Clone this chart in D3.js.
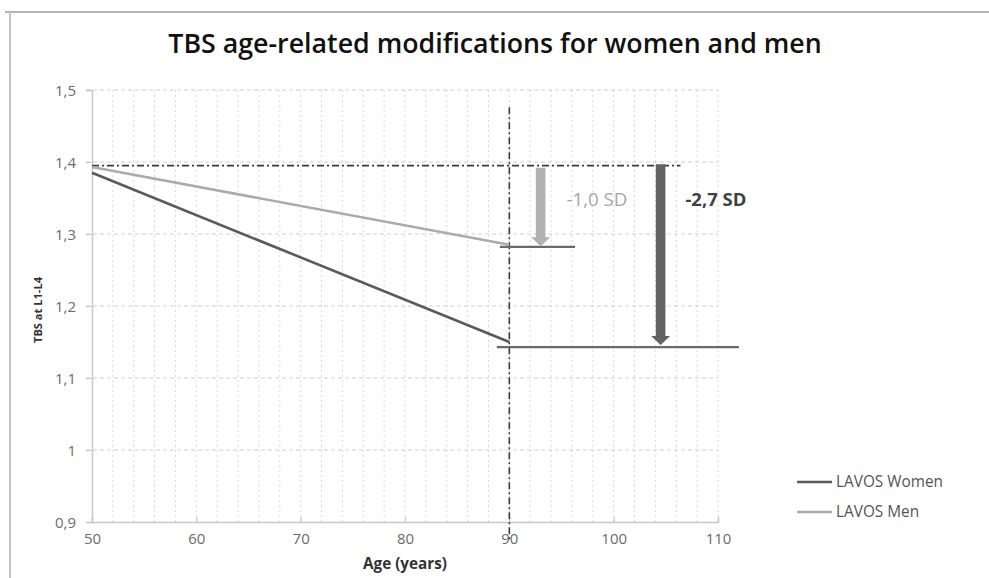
<!DOCTYPE html>
<html>
<head>
<meta charset="utf-8">
<script src="https://cdn.jsdelivr.net/npm/d3@7"></script>
<style>
  html, body { margin: 0; padding: 0; background: #fff; }
  svg { display: block; }
  text { font-family: "Open Sans", "DejaVu Sans", sans-serif; }
</style>
</head>
<body>
<svg id="chart" width="989" height="578"></svg>
<script>
// ---------- data ----------
const title = "TBS age-related modifications for women and men";
const xTitle = "Age (years)";
const yTitle = "TBS at L1-L4";
const ages = [50, 90];
const womenTBS = [1.385, 1.15];
const menTBS = [1.393, 1.285];
const seriesNames = ["LAVOS Women", "LAVOS Men"];
const xTicks = [50, 60, 70, 80, 90, 100, 110];
const yTicks = [0.9, 1.0, 1.1, 1.2, 1.3, 1.4, 1.5];
const yTickLabels = ["0,9", "1", "1,1", "1,2", "1,3", "1,4", "1,5"];
const refLevel = 1.395;          // horizontal dash-dot reference
const refAge = 90;               // vertical dash-dot reference
const refLineEndAge = 106.4;
const refVLineRange = [1.476, 0.875];
const levelSegments = [
  { name: "men", from: 89.1, to: 96.3, value: 1.282 },
  { name: "women", from: 88.8, to: 112.0, value: 1.143 }
];
const arrows = [
  { name: "men", age: 93.0, from: 1.392, to: 1.283, label: "-1,0 SD", labelAge: 98.4, labelValue: 1.348 },
  { name: "women", age: 104.5, from: 1.397, to: 1.146, label: "-2,7 SD", labelAge: 109.8, labelValue: 1.348 }
];

// ---------- layout ----------
const svg = d3.select("#chart");
const plot = { left: 92, right: 718, top: 90, bottom: 522 };
const x = d3.scaleLinear().domain([50, 110]).range([plot.left, plot.right]);
const y = d3.scaleLinear().domain([0.9, 1.5]).range([plot.bottom, plot.top]);

const colWomen = "#5a5a5a", colMen = "#ababab";
const colText = "#6b6b6b";

function fit(sel, base, width) {
  sel.attr("font-size", base);
  const w = sel.node().getComputedTextLength();
  sel.attr("font-size", base * width / w);
  return sel;
}

// frame
svg.append("line").attr("x1", 5).attr("x2", 989).attr("y1", 12).attr("y2", 12)
  .attr("stroke", "#b4b4b4").attr("stroke-width", 2);
svg.append("line").attr("x1", 10).attr("x2", 10).attr("y1", 12).attr("y2", 578)
  .attr("stroke", "#c4c4c4").attr("stroke-width", 2);

// title
const t = svg.append("text").attr("x", 495).attr("y", 53).attr("text-anchor", "middle")
  .attr("font-weight", 600).attr("fill", "#111").text(title);
fit(t, 22, 654);

// minor vertical gridlines every 2 years
const vGrid = d3.range(52, 110.1, 2);
svg.append("g").selectAll("line").data(vGrid).join("line")
  .attr("x1", d => x(d)).attr("x2", d => x(d))
  .attr("y1", plot.top).attr("y2", plot.bottom)
  .attr("stroke", "#d9d9d9").attr("stroke-width", 1).attr("stroke-dasharray", "2,3");

// horizontal gridlines
svg.append("g").selectAll("line").data(yTicks.slice(1)).join("line")
  .attr("x1", plot.left - 6).attr("x2", plot.right)
  .attr("y1", d => y(d)).attr("y2", d => y(d))
  .attr("stroke", "#cfcfcf").attr("stroke-width", 1).attr("stroke-dasharray", "4,3");

// axes
const yAxis = d3.axisLeft(y).tickValues(yTicks).tickFormat((d, i) => yTickLabels[i]).tickSize(6).tickPadding(10);
const gy = svg.append("g").attr("transform", `translate(${plot.left},0)`).call(yAxis);
const xAxis = d3.axisBottom(x).tickValues(xTicks).tickFormat(d3.format("d")).tickSize(-5).tickPadding(11);
const gx = svg.append("g").attr("transform", `translate(0,${plot.bottom})`).call(xAxis);
[gx, gy].forEach(g => {
  g.select(".domain").attr("stroke", "#c8c8c8").attr("stroke-width", 1.5);
  g.selectAll(".tick line").attr("stroke", "#c8c8c8").attr("stroke-width", 1.2);
  g.selectAll(".tick text").attr("fill", colText).attr("font-size", 15)
    .attr("font-family", "'Open Sans', sans-serif");
});
gy.selectAll(".tick text").attr("dy", "0.35em");
gx.selectAll(".tick text").attr("dy", "0.71em");

// axis titles
fit(svg.append("text").attr("x", x(80)).attr("y", 569).attr("text-anchor", "middle")
  .attr("font-weight", "bold").attr("fill", "#333").text(xTitle), 12, 84);
fit(svg.append("text").attr("transform", `translate(42,310) rotate(-90)`).attr("text-anchor", "middle")
  .attr("font-weight", "bold").attr("fill", "#333").text(yTitle), 11, 66);

// reference dash-dot lines
svg.append("line").attr("x1", x(50)).attr("x2", x(refLineEndAge))
  .attr("y1", y(refLevel)).attr("y2", y(refLevel))
  .attr("stroke", "#3a3a3a").attr("stroke-width", 1.6).attr("stroke-dasharray", "7,3,2,3");
svg.append("line").attr("x1", x(refAge)).attr("x2", x(refAge))
  .attr("y1", y(refVLineRange[0])).attr("y2", y(refVLineRange[1]))
  .attr("stroke", "#3a3a3a").attr("stroke-width", 1.6).attr("stroke-dasharray", "7,3,2,3");

// series lines
const line = d3.line().x(d => x(d[0])).y(d => y(d[1]));
svg.append("path").datum(ages.map((a, i) => [a, menTBS[i]])).attr("d", line)
  .attr("fill", "none").attr("stroke", colMen).attr("stroke-width", 2.6);
svg.append("path").datum(ages.map((a, i) => [a, womenTBS[i]])).attr("d", line)
  .attr("fill", "none").attr("stroke", colWomen).attr("stroke-width", 2.6);

// level segments
svg.append("g").selectAll("line").data(levelSegments).join("line")
  .attr("x1", d => x(d.from)).attr("x2", d => x(d.to))
  .attr("y1", d => y(d.value)).attr("y2", d => y(d.value))
  .attr("stroke", "#6a6a6a").attr("stroke-width", 2.2);

// arrows
const arrowColor = { men: "#b0b0b0", women: "#636363" };
const labelColor = { men: "#a6a6a6", women: "#404040" };
arrows.forEach(a => {
  const cx = x(a.age), y0 = y(a.from), y1 = y(a.to);
  const shaft = 4.8, head = 9.5, headLen = 9;
  const pts = [
    [cx - shaft, y0], [cx + shaft, y0], [cx + shaft, y1 - headLen],
    [cx + head, y1 - headLen], [cx, y1], [cx - head, y1 - headLen], [cx - shaft, y1 - headLen]
  ];
  svg.append("polygon").attr("points", pts.map(p => p.join(",")).join(" "))
    .attr("fill", arrowColor[a.name]);
  const lt = svg.append("text").attr("x", x(a.labelAge)).attr("y", y(a.labelValue)).attr("dy", "0.35em")
    .attr("text-anchor", "middle")
    .attr("font-weight", a.name === "women" ? "bold" : "normal")
    .attr("fill", labelColor[a.name]).text(a.label);
  fit(lt, 14, 61);
});

// legend
const legend = svg.append("g");
const legendColors = [colWomen, colMen];
seriesNames.forEach((n, i) => {
  const ly = 482 + i * 30;
  legend.append("line").attr("x1", 797).attr("x2", 832).attr("y1", ly).attr("y2", ly)
    .attr("stroke", legendColors[i]).attr("stroke-width", 2.6);
  const lt = legend.append("text").attr("x", 836).attr("y", ly).attr("dy", "0.35em")
    .attr("fill", "#555").text(n);
  if (i === 0) fit(lt, 12, 107); else lt.attr("font-size", legend.select("text").attr("font-size"));
});
</script>
</body>
</html>
